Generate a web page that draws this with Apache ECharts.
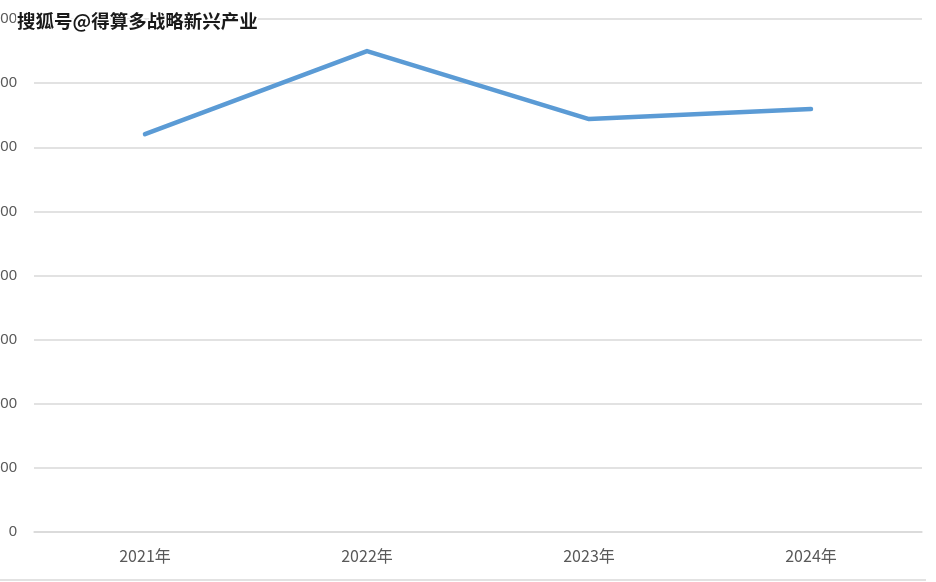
<!DOCTYPE html>
<html><head><meta charset="utf-8">
<script src="https://cdn.jsdelivr.net/npm/echarts@6/dist/echarts.min.js"></script>
<style>html,body{margin:0;padding:0;background:#fff}#c{width:936px;height:582px}</style>
</head><body><div id="c"></div>
<script>
const categories = ['2021年', '2022年', '2023年', '2024年'];
const values = [1241, 1500, 1288, 1319];
const yMax = 1600;
const yInterval = 200;
const watermark = '搜狐号@得算多战略新兴产业';

const chart = echarts.init(document.getElementById('c'));
chart.setOption({
  animation: false,
  backgroundColor: '#ffffff',
  title: {
    text: watermark, left: 12, top: 7,
    textStyle: { fontSize: 18.5, fontWeight: 'bold', color: '#1a1a1a', fontFamily: 'Noto Sans CJK SC',
      textBorderColor: '#ffffff', textBorderWidth: 3 }
  },
  grid: { left: 34, right: 14, top: 19, bottom: 50, containLabel: false, outerBoundsMode: 'none' },
  xAxis: {
    type: 'category', data: categories, boundaryGap: true,
    axisLine: { lineStyle: { color: '#d9d9d9', width: 1.5 } },
    axisTick: { show: false },
    axisLabel: { color: '#595959', fontSize: 16, margin: 16, fontFamily: 'Liberation Sans Narrow, Noto Sans CJK SC' }
  },
  yAxis: {
    type: 'value', min: 0, max: yMax, interval: yInterval,
    axisLine: { show: false }, axisTick: { show: false },
    axisLabel: { color: '#595959', fontSize: 15, margin: 17, fontFamily: 'Liberation Sans',
      formatter: v => String(v) },
    splitLine: { lineStyle: { color: '#d9d9d9', width: 1.5 } }
  },
  series: [{
    type: 'line', data: values, showSymbol: false, symbol: 'none', z: 1,
    lineStyle: { color: '#5b9bd5', width: 4.5, cap: 'round', join: 'round' }
  }],
  graphic: [{
    type: 'line', shape: { x1: 0, y1: 580, x2: 926, y2: 580 },
    style: { stroke: '#d9d9d9', lineWidth: 1.5 }
  }]
});
</script></body></html>
